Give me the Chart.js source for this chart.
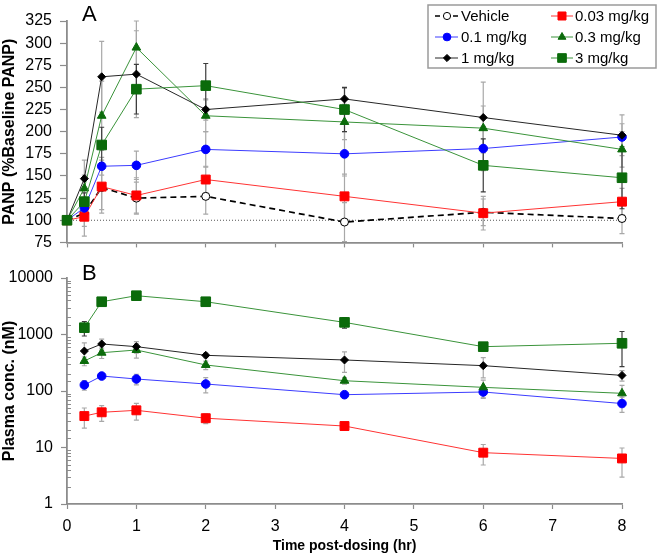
<!DOCTYPE html>
<html>
<head>
<meta charset="utf-8">
<script src="https://cdn.jsdelivr.net/npm/chart.js@4.4.0/dist/chart.umd.min.js"></script>
<style>
  html, body { margin: 0; padding: 0; background: #fff; }
  #wrap { position: relative; width: 657px; height: 553px; }
  #panelA { position: absolute; left: 0; top: 0; }
  #panelB { position: absolute; left: 0; top: 260px; }
</style>
</head>
<body>
<div id="wrap">
  <canvas id="panelA" width="657" height="260"></canvas>
  <canvas id="panelB" width="657" height="293"></canvas>
</div>
<script>
// time points (hr)
const timeA = [0, 0.25, 0.5, 1, 2, 4, 6, 8];
const timeB = [0.25, 0.5, 1, 2, 4, 6, 8];
const baselineLevel = 100;

const seriesLabels = ['Vehicle', '0.03 mg/kg', '0.1 mg/kg', '0.3 mg/kg', '1 mg/kg', '3 mg/kg'];

// panel A - PANP (% baseline), mean and error
const panpVehicle = [100, 108, 137, 125, 127, 98, 109, 102];
const panpVehicleErr = [0, 15, 25, 18, 20, 22, 15, 17];
const panp003 = [100, 104, 138, 128, 146, 127, 108, 121];
const panp003Err = [0, 22, 30, 20, 15, 25, 19, 15];
const panp01 = [100, 114, 161, 162, 180, 175, 181, 194];
const panp01Err = [0, 10, 10, 16, 20, 25, 25, 15];
const panp03 = [100, 136, 218, 295, 218, 211, 204, 180];
const panp03Err = [0, 15, 39, 30, 18, 20, 25, 20];
const panp1 = [100, 147, 262, 265, 225, 237, 216, 196];
const panp1Err = [0, 21, 40, 49, 12, 12, 40, 23];
const panp3 = [100, 121, 185, 248, 252, 225, 162, 148];
const panp3Err = [0, 10, 20, 28, 25, 25, 30, 35];

// panel B - plasma conc. (nM), mean and error
const plasma003 = [36, 42, 45.5, 33, 24, 8.1, 6.4];
const plasma003Err = [14, 13, 15, 6.5, 3.5, 3.2, 3.4];
const plasma01 = [128, 184, 163, 133, 86, 96, 60];
const plasma01Err = [25, 15, 35, 40, 10, 22, 18];
const plasma03 = [340, 476, 532, 289, 152, 116, 91];
const plasma03Err = [60, 100, 150, 50, 20, 40, 35];
const plasma1 = [510, 679, 609, 428, 354, 281, 189];
const plasma1Err = [200, 150, 140, 40, 140, 110, 40];
const plasma3 = [1320, 3800, 4860, 3800, 1640, 609, 699];
const plasma3Err = [380, 300, 300, 250, 350, 60, 430];

const FONT = "'Liberation Sans', Arial, sans-serif";
const AXIS = '#8c8c8c';
const ERR_LIGHT = '#a8a8a8';
const ERR_DARK = '#3c3c3c';

// marker / line look per series (same order as seriesLabels)
const looks = [
  { line: '#000000', fill: '#ffffff', edge: '#000000', shape: 'circle', r: 4, width: 1.7, dash: [6, 4], err: ERR_LIGHT },
  { line: '#ff3333', fill: '#ff0000', edge: '#ff0000', shape: 'rect', r: 6.3, width: 1, err: ERR_LIGHT },
  { line: '#3c3cff', fill: '#0000ff', edge: '#0000ff', shape: 'circle', r: 4.3, width: 1, err: ERR_LIGHT },
  { line: '#3a933a', fill: '#0b6b0b', edge: '#0b6b0b', shape: 'triangle', r: 5, width: 1, err: ERR_LIGHT },
  { line: '#262626', fill: '#000000', edge: '#000000', shape: 'rectRot', r: 4, width: 1, err: ERR_LIGHT },
  { line: '#3a933a', fill: '#0b6b0b', edge: '#0b6b0b', shape: 'rect', r: 6.8, width: 1, err: ERR_DARK }
];

function makeSeries(i, times, values, errors) {
  const lk = looks[i];
  return {
    label: seriesLabels[i],
    data: times.map((t, j) => ({ x: t, y: values[j] })),
    errors: errors,
    errorColor: lk.err,
    borderColor: lk.line,
    borderWidth: lk.width,
    borderDash: lk.dash || [],
    backgroundColor: lk.fill,
    pointStyle: lk.shape,
    pointRadius: lk.r,
    pointBackgroundColor: lk.fill,
    pointBorderColor: lk.edge,
    pointBorderWidth: 1,
    tension: 0,
    clip: false,
    order: 10 - i
  };
}

const errorBars = {
  id: 'errorBars',
  beforeDatasetsDraw(chart) {
    const { ctx } = chart;
    const xs = chart.scales.x, ys = chart.scales.y;
    chart.data.datasets.forEach(ds => {
      if (!ds.errors) return;
      ctx.save();
      ctx.strokeStyle = ds.errorColor;
      ctx.lineWidth = 1.2;
      ds.data.forEach((p, j) => {
        const e = ds.errors[j];
        if (!e) return;
        const px = xs.getPixelForValue(p.x);
        const hi = Math.min(p.y + e, ys.max);
        const lo = Math.max(p.y - e, ys.min);
        const top = ys.getPixelForValue(hi), bot = ys.getPixelForValue(lo);
        ctx.beginPath();
        ctx.moveTo(px, top); ctx.lineTo(px, bot);
        ctx.moveTo(px - 2.5, top); ctx.lineTo(px + 2.5, top);
        ctx.moveTo(px - 2.5, bot); ctx.lineTo(px + 2.5, bot);
        ctx.stroke();
      });
      ctx.restore();
    });
  }
};

function panelLetter(letter, x, y) {
  return {
    id: 'letter' + letter,
    afterDraw(chart) {
      const ctx = chart.ctx;
      ctx.save();
      ctx.font = '22px ' + FONT;
      ctx.fillStyle = '#000';
      ctx.textBaseline = 'alphabetic';
      ctx.fillText(letter, x, y);
      ctx.restore();
    }
  };
}

function fallbackPoint(ctx, o, x, y) {
  ctx.beginPath();
  if (o.pointStyle === 'rect') {
    const s = o.radius * Math.SQRT1_2;
    ctx.rect(x - s, y - s, 2 * s, 2 * s);
  } else if (o.pointStyle === 'rectRot') {
    ctx.moveTo(x - o.radius, y); ctx.lineTo(x, y - o.radius);
    ctx.lineTo(x + o.radius, y); ctx.lineTo(x, y + o.radius); ctx.closePath();
  } else if (o.pointStyle === 'triangle') {
    ctx.moveTo(x, y - o.radius); ctx.lineTo(x + o.radius * 0.87, y + o.radius * 0.5);
    ctx.lineTo(x - o.radius * 0.87, y + o.radius * 0.5); ctx.closePath();
  } else {
    ctx.arc(x, y, o.radius, 0, Math.PI * 2);
  }
  ctx.fill();
  ctx.stroke();
}
const drawPoint = (Chart.helpers && Chart.helpers.drawPoint) || fallbackPoint;

const legendBox = {
  id: 'legendBox',
  afterDraw(chart) {
    const ctx = chart.ctx;
    ctx.save();
    ctx.fillStyle = '#fff';
    ctx.fillRect(428, 5, 228, 63);
    ctx.strokeStyle = '#9a9a9a';
    ctx.lineWidth = 1.5;
    ctx.strokeRect(428, 5, 228, 63);
    const rows = [16, 37, 58];
    const cols = [{ l0: 435, l1: 458, m: 447, t: 461 }, { l0: 551, l1: 573, m: 562, t: 575 }];
    seriesLabels.forEach((label, i) => {
      const lk = looks[i];
      const c = cols[i % 2], y = rows[Math.floor(i / 2)];
      ctx.strokeStyle = lk.line;
      ctx.lineWidth = lk.width;
      ctx.beginPath();
      if (lk.dash) {
        ctx.moveTo(c.l0, y); ctx.lineTo(c.l0 + 5, y);
        ctx.moveTo(c.l1 - 5, y); ctx.lineTo(c.l1, y);
      } else {
        ctx.moveTo(c.l0, y); ctx.lineTo(c.l1, y);
      }
      ctx.stroke();
      ctx.fillStyle = lk.fill;
      ctx.strokeStyle = lk.edge;
      ctx.lineWidth = 1;
      drawPoint(ctx, { pointStyle: lk.shape, radius: lk.r * 0.9, borderWidth: 1, rotation: 0 }, c.m, y);
      ctx.fillStyle = '#000';
      ctx.font = '15px ' + FONT;
      ctx.textBaseline = 'middle';
      ctx.fillText(label, c.t, y + 1);
    });
    ctx.restore();
  }
};

const isDecade = v => Math.abs(Math.log10(v) - Math.round(Math.log10(v))) < 1e-9;

const minorTicks = {
  id: 'minorTicks',
  afterDraw(chart) {
    const ys = chart.scales.y, ctx = chart.ctx;
    ctx.save();
    ctx.strokeStyle = AXIS;
    ctx.lineWidth = 1;
    ys.ticks.forEach(t => {
      if (isDecade(t.value)) return;
      const py = Math.round(ys.getPixelForValue(t.value)) + 0.5;
      ctx.beginPath();
      ctx.moveTo(ys.right, py); ctx.lineTo(ys.right + 4, py);
      ctx.stroke();
    });
    ctx.restore();
  }
};

const tickFont = { family: FONT, size: 16 };
const titleFont = { family: FONT, size: 16, weight: 'bold' };

// panel A
new Chart(document.getElementById('panelA'), {
  type: 'line',
  data: {
    datasets: [
      {
        label: 'baseline',
        data: [{ x: timeA[0], y: baselineLevel }, { x: timeA[timeA.length - 1], y: baselineLevel }],
        borderColor: '#555',
        borderWidth: 1,
        borderDash: [1, 2],
        pointRadius: 0,
        order: 20
      },
      makeSeries(0, timeA, panpVehicle, panpVehicleErr),
      makeSeries(1, timeA, panp003, panp003Err),
      makeSeries(2, timeA, panp01, panp01Err),
      makeSeries(3, timeA, panp03, panp03Err),
      makeSeries(4, timeA, panp1, panp1Err),
      makeSeries(5, timeA, panp3, panp3Err)
    ]
  },
  options: {
    responsive: false,
    animation: false,
    devicePixelRatio: 1,
    layout: { padding: { top: 21, right: 35, left: 0, bottom: 0 } },
    plugins: { legend: { display: false }, tooltip: { enabled: false } },
    scales: {
      x: {
        type: 'linear', min: 0, max: 8,
        ticks: { display: false, stepSize: 1 },
        grid: { drawOnChartArea: false, tickLength: 5, tickColor: AXIS, tickWidth: 1.2 },
        border: { color: AXIS, width: 1.8 },
        afterFit: s => { s.height = 13; }
      },
      y: {
        min: 75, max: 325,
        ticks: { stepSize: 25, font: tickFont, color: '#000', padding: 8 },
        grid: { drawOnChartArea: false, tickLength: 7, tickColor: AXIS, tickWidth: 1.2 },
        border: { color: AXIS, width: 1.8 },
        title: { display: true, text: 'PANP (%Baseline PANP)', font: titleFont, color: '#000', padding: 0 },
        afterFit: s => { s.width = 67; }
      }
    }
  },
  plugins: [errorBars, panelLetter('A', 82, 21), legendBox]
});

// panel B
new Chart(document.getElementById('panelB'), {
  type: 'line',
  data: {
    datasets: [
      makeSeries(1, timeB, plasma003, plasma003Err),
      makeSeries(2, timeB, plasma01, plasma01Err),
      makeSeries(3, timeB, plasma03, plasma03Err),
      makeSeries(4, timeB, plasma1, plasma1Err),
      makeSeries(5, timeB, plasma3, plasma3Err)
    ]
  },
  options: {
    responsive: false,
    animation: false,
    devicePixelRatio: 1,
    layout: { padding: { top: 18, right: 35, left: 0, bottom: 0 } },
    plugins: { legend: { display: false }, tooltip: { enabled: false } },
    scales: {
      x: {
        type: 'linear', min: 0, max: 8,
        ticks: { stepSize: 1, font: tickFont, color: '#000', padding: 8 },
        grid: { drawOnChartArea: false, tickLength: 5, tickColor: AXIS, tickWidth: 1.2 },
        border: { color: AXIS, width: 1.8 },
        title: { display: true, text: 'Time post-dosing (hr)', font: { family: FONT, size: 14, weight: 'bold', lineHeight: 1 }, color: '#000', padding: 0 },
        afterFit: s => { s.height = 49; }
      },
      y: {
        type: 'logarithmic', min: 1, max: 10000,
        ticks: {
          autoSkip: false, font: tickFont, color: '#000', padding: 8,
          callback: v => isDecade(v) ? String(Math.round(v)) : ''
        },
        grid: {
          drawOnChartArea: false, tickLength: 6, tickWidth: 1.2,
          tickColor: c => (c.tick && isDecade(c.tick.value)) ? AXIS : 'rgba(0,0,0,0)'
        },
        border: { color: AXIS, width: 1.8 },
        title: { display: true, text: 'Plasma conc. (nM)', font: titleFont, color: '#000', padding: 0 },
        afterFit: s => { s.width = 67; }
      }
    }
  },
  plugins: [errorBars, minorTicks, panelLetter('B', 82, 20)]
});
</script>
</body>
</html>
